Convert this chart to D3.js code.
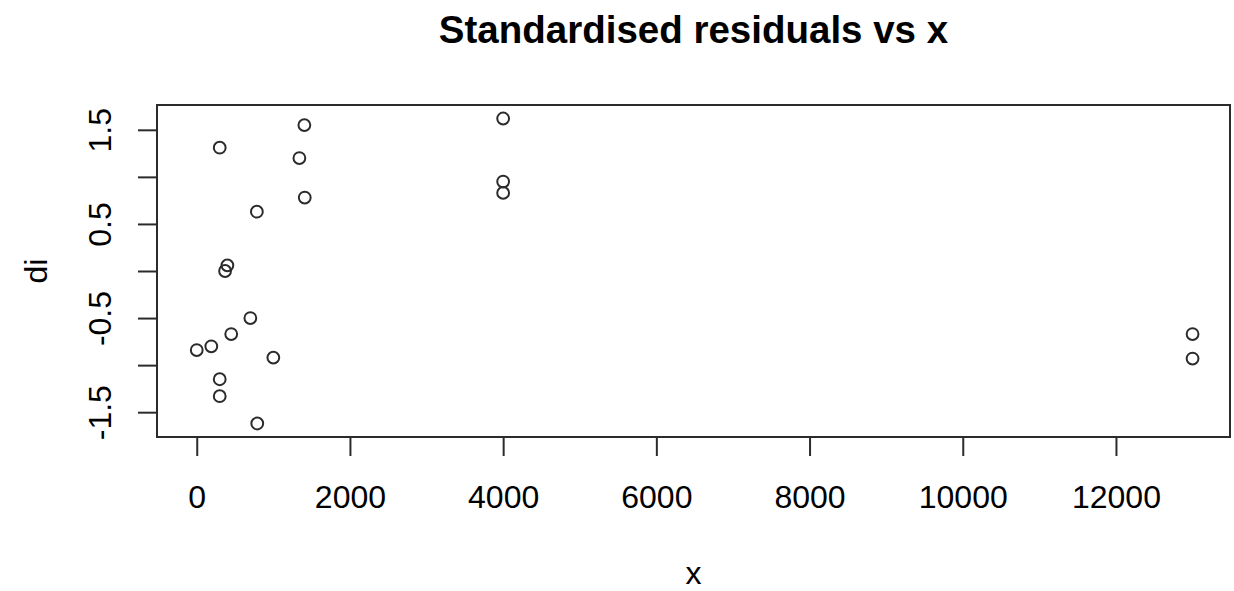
<!DOCTYPE html>
<html>
<head>
<meta charset="utf-8">
<script src="https://cdn.jsdelivr.net/npm/d3@7"></script>
<style>
  body { margin: 0; background: #fff; }
  text { font-family: "Liberation Sans", Arial, sans-serif; fill: #000; }
</style>
</head>
<body>
<div id="chart"></div>
<script>
// values
var xValues = [0, 190, 300, 300, 300, 370, 400, 450, 700, 785, 790, 1000, 1340, 1405, 1410, 4000, 4000, 4000, 13000, 13000];
var diValues = [-0.84, -0.80, 1.31, -1.15, -1.33, 0.0, 0.06, -0.67, -0.50, 0.63, -1.62, -0.92, 1.20, 1.55, 0.78, 1.62, 0.95, 0.83, -0.67, -0.93];

var xTicks = [0, 2000, 4000, 6000, 8000, 10000, 12000];
var yTicks = [-1.5, -1.0, -0.5, 0.0, 0.5, 1.0, 1.5];
var yTickLabels = ["-1.5", "", "-0.5", "", "0.5", "", "1.5"];

var title = "Standardised residuals vs x";
var xLabel = "x";
var yLabel = "di";

var width = 1234, height = 591;
var margin = {top: 105, right: 4, bottom: 154, left: 157};
var plotW = width - margin.left - margin.right,
    plotH = height - margin.top - margin.bottom;

var svg = d3.select("#chart").append("svg")
    .attr("width", width)
    .attr("height", height);

// R style: data range padded by 4% each side
function padded(ext) {
    var d = (ext[1] - ext[0]) * 0.04;
    return [ext[0] - d, ext[1] + d];
}

var x = d3.scaleLinear().domain(padded([0, 12970])).range([0, plotW]);
var y = d3.scaleLinear().domain(padded([-1.633, 1.633])).range([plotH, 0]);

var g = svg.append("g")
    .attr("transform", "translate(" + margin.left + "," + margin.top + ")");

var xAxis = g.append("g")
    .attr("transform", "translate(0," + plotH + ")")
    .call(d3.axisBottom(x).tickValues(xTicks).tickFormat(d3.format("d")).tickSize(19).tickPadding(29));

var yAxis = g.append("g")
    .call(d3.axisLeft(y).tickValues(yTicks).tickFormat(function(d, i) { return yTickLabels[i]; }).tickSize(19).tickPadding(0));

[xAxis, yAxis].forEach(function(a) {
    a.select(".domain").remove();
    a.selectAll("line").attr("stroke", "#2b2b2b").attr("stroke-width", 2);
    a.selectAll("text").style("font-size", "32px").attr("fill", "#000");
});

// rotated y tick labels, like R's las = 0
yAxis.selectAll("text")
    .attr("x", null).attr("dy", null)
    .attr("text-anchor", "middle")
    .attr("transform", function(d) { return "translate(-46,0) rotate(-90)"; });

xAxis.selectAll("text").attr("dy", "0.71em");

// box
g.append("rect")
    .attr("width", plotW)
    .attr("height", plotH)
    .attr("fill", "none")
    .attr("stroke", "#2b2b2b")
    .attr("stroke-width", 2);

g.selectAll(".pt")
    .data(xValues)
    .enter().append("circle")
    .attr("class", "pt")
    .attr("cx", function(d) { return x(d); })
    .attr("cy", function(d, i) { return y(diValues[i]); })
    .attr("r", 5.9)
    .attr("fill", "none")
    .attr("stroke", "#2b2b2b")
    .attr("stroke-width", 2);

svg.append("text")
    .attr("x", margin.left + plotW / 2)
    .attr("y", 43)
    .attr("text-anchor", "middle")
    .style("font-size", "38.5px")
    .style("font-weight", "bold")
    .text(title);

svg.append("text")
    .attr("x", margin.left + plotW / 2)
    .attr("y", 584)
    .attr("text-anchor", "middle")
    .style("font-size", "32px")
    .text(xLabel);

svg.append("text")
    .attr("transform", "translate(47," + (margin.top + plotH / 2) + ") rotate(-90)")
    .attr("text-anchor", "middle")
    .style("font-size", "32px")
    .text(yLabel);
</script>
</body>
</html>
